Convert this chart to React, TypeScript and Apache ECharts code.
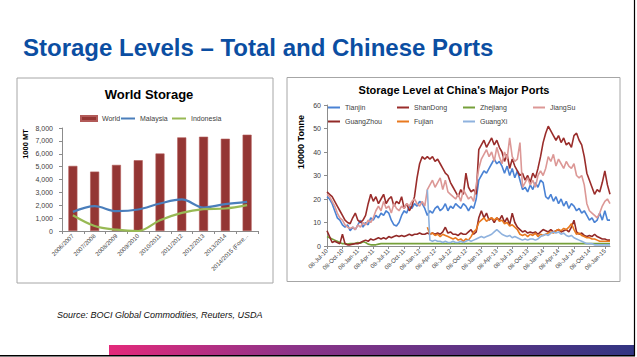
import React, { useEffect, useRef } from "react";
import * as echarts from "echarts";

// ---------- Left chart: World Storage (1000 MT) ----------
const seasons = [
  "2006/2007", "2007/2008", "2008/2009", "2009/2010", "2010/2011",
  "2011/2012", "2012/2013", "2013/2014", "2014/2015 (Fore...",
];
const worldStorage = [5055, 4612, 5133, 5498, 6020, 7270, 7322, 7166, 7479];
const malaysiaStorage = [1485, 1928, 1537, 1668, 2137, 2450, 1824, 2085, 2267];
const indonesiaStorage = [1225, 390, 100, 0, 834, 1407, 1694, 1746, 2006];

// ---------- Right chart: Storage at China's major ports (10000 tonne) ----------
// x position = months since 08-Jul-10, sampled every half month (0 .. 55)
const halfMonths = Array.from({ length: 111 }, (_, i) => i / 2);
const dateTicks = [
  "08-Jul-10", "08-Oct-10", "08-Jan-11", "08-Apr-11", "08-Jul-11", "08-Oct-11",
  "08-Jan-12", "08-Apr-12", "08-Jul-12", "08-Oct-12", "08-Jan-13", "08-Apr-13",
  "08-Jul-13", "08-Oct-13", "08-Jan-14", "08-Apr-14", "08-Jul-14", "08-Oct-14",
  "08-Jan-15",
];

const tianjin = [
  21, 20, 18, 15, 12, 11, 9, 8, 9, 6.5,
  8, 7, 9, 11, 8, 10, 9, 12, 11, 13,
  12, 14, 13, 15, 14, 11, 9, 8.5, 10, 13,
  15, 14, 17, 16, 18, 17, 19, 18, 16, 13,
  15, 14, 16, 17, 15, 16, 18, 15, 17, 16,
  18, 17, 16, 18, 17, 15, 17, 16, 20, 28,
  30, 32, 31, 33, 35, 37, 35, 36, 34, 31,
  34, 30, 33, 29, 32, 28, 24, 25, 23, 26,
  24, 27, 25, 28, 27, 21, 20, 22, 19, 21,
  18, 20, 17, 19, 16, 18, 17, 15, 16, 14,
  15, 13, 11, 12, 10, 11, 14, 11, 15, 11, 11,
];
const shanDong = [
  23, 22, 21, 19, 17, 15, 13, 11, 10, 9.5,
  12, 14, 11, 10, 11, 13, 18, 22, 19, 21,
  18, 20, 22, 18, 20, 21, 17, 19, 18, 21,
  16, 18, 15, 17, 21, 29, 35, 38, 37, 38,
  37, 38, 36, 37, 35, 33, 31, 30, 27, 25,
  23, 21, 24, 22, 31, 25, 23, 24, 22, 41,
  43, 45, 42, 44, 46, 43, 45, 42, 40, 36,
  39, 33, 37, 34, 32, 30, 31, 28, 30, 27,
  31, 29, 33, 38, 44, 48, 51, 49, 47, 45,
  47, 44, 46, 43, 44, 42, 47, 48, 45, 43,
  38, 31, 28, 25, 22, 24, 23, 27, 32, 26, 22,
];
const zhejiang = [
  4, 3.5, 3, 2.5, 2, 1.5, 1, 1, 0.8, 1,
  1, 1.2, 1.5, 1.2, 1.8, 1.5, 0.8, 0.5, 0.5, 0.5,
  0.8, 1, 1, 1, 1, 1, 1, 1, 1, 1,
  1, 1, 1, 1, 1, 1, 1, 1, 1, 1,
  1, 1, 1, 1, 1, 1, 1, 1, 1, 1,
  1, 1, 1, 1, 1, 1, 1, 1, 1, 1,
  1, 1, 1, 1, 1, 1, 1, 1, 1, 1,
  1, 1, 1, 1, 1, 1, 1, 1, 1, 1,
  1, 1, 1, 1, 1, 1, 1, 1, 1, 1,
  1, 1, 1, 1, 1, 1, 1, 1, 1, 1,
  1, 1, 1, 1, 1, 1, 1, 1, 1, 1, 1,
];
const jiangSu = [
  22, 21, 19, 17, 14, 12, 11, 9, 8, 7.5,
  8, 7, 9, 8, 10, 9, 11, 10, 12, 15,
  17, 15, 19, 16, 17, 14, 18, 16, 15, 17,
  16, 18, 17, 19, 20, 18, 17, 19, 17, 24,
  26, 28, 25, 27, 29, 24, 28, 23, 22, 21,
  20, 22, 19, 24, 22, 20, 21, 19, 26, 33,
  37, 39, 41, 38, 40, 36, 42, 38, 35, 40,
  37, 46, 38, 36, 37, 44, 25, 27, 29, 26,
  28, 25, 30, 32, 30, 33, 38, 36, 39, 34,
  37, 35, 33, 36, 34, 33, 35, 30, 29, 30,
  26, 18, 15, 14, 13, 12, 14, 17, 19, 20, 18,
];
const guangZhou = [
  6.5, 4, 1.5, 2, 1.5, 1, 5, 1, 0.5, 0.5,
  0.8, 1, 1, 1.5, 2, 2.5, 2, 3, 2.5, 3,
  3.5, 3, 3.5, 3, 4, 3.5, 4, 4.5, 4, 4.5,
  4, 4.5, 5, 4.5, 5, 5, 5.5, 5, 5, 5.5,
  5, 5.5, 5, 5.5, 5, 6, 8, 5.5, 6, 5,
  5, 4.5, 5.5, 5, 5, 6, 7, 5, 6, 12,
  15, 12, 14, 11, 12, 10, 12, 11, 13, 10,
  12, 9, 14, 10, 8, 7, 6, 6.5, 5.5, 6,
  5.5, 6, 5, 6, 7, 6.5, 6, 7, 6, 6.5,
  7, 6, 6.5, 7, 6, 8, 11, 6, 5, 5.5,
  4.5, 4, 4.5, 4, 5, 4, 3.5, 3, 3, 2.5, 2.5,
];
// Fujian and GuangXi start reporting at half-month index 39
const lateStart = 39;
const fujian = [
  8,
  5, 5.5, 4.5, 5, 4, 5, 4.5, 4, 3.5, 3,
  3.5, 2.5, 3, 2, 3, 2.5, 4, 6, 7, 10,
  11, 12, 10.5, 11.5, 12, 11, 12, 10.5, 11, 9.5,
  10, 8.5, 9, 8, 7, 5, 4.5, 5, 4, 5,
  4.5, 5.5, 4, 5, 4.5, 5, 5.5, 6, 5.5, 6.5,
  7, 6.5, 7.5, 7, 8, 9.5, 7, 5, 5.5, 4.5,
  4, 3.5, 3.5, 3, 3, 2.5, 2, 2, 2, 2, 2,
];
const guangXi = [
  24,
  2.5, 2, 2.5, 2, 2, 1.5, 2, 1.5, 1.5, 2,
  1.5, 1.5, 2, 1.5, 2, 2.5, 2, 2.5, 3, 3.5,
  4, 3.5, 4, 4.5, 5, 6, 7, 6, 5, 4.5,
  4, 4.5, 3.5, 4, 3.5, 3, 2.5, 3, 2.5, 3,
  3, 2.5, 3, 4, 4.5, 5, 4.5, 5.5, 6, 5.5,
  6, 5, 5.5, 4.5, 4, 4.5, 3.5, 3, 2.5, 2,
  1.5, 1, 1, 1, 0.5, 0.5, 0.5, 0.5, 0.5, 0.5, 0.5,
];

const FONT = "Liberation Sans, Arial, sans-serif";
const TICK_COLOR = "#404040";
const AXIS_COLOR = "#8c8c8c";

function pairs(values: number[], start = 0) {
  return values.map((v, i) => [halfMonths[start + i], v]);
}

// one legend component per entry, so every entry sits where the reference puts it
function legendItem(name: string, left: number, top: number, itemWidth: number, itemHeight: number, fontSize = 7) {
  return {
    show: true,
    left,
    top,
    padding: 0,
    itemGap: 0,
    itemWidth,
    itemHeight,
    selectedMode: false,
    data: [{ name, icon: "rect" }],
    textStyle: { fontSize, color: TICK_COLOR, fontFamily: FONT },
  };
}

function portLine(name: string, color: string, values: number[], start = 0) {
  return {
    name,
    type: "line",
    xAxisIndex: 1,
    yAxisIndex: 1,
    data: pairs(values, start),
    symbol: "none",
    showSymbol: false,
    lineStyle: { color, width: 1.6 },
    itemStyle: { color },
  };
}

export default function App() {
  const ref = useRef<HTMLDivElement>(null);

  useEffect(() => {
    if (!ref.current) return;
    const chart = echarts.init(ref.current, null, { renderer: "svg" });

    const option = {
      animation: false,
      backgroundColor: "#ffffff",
      textStyle: { fontFamily: FONT },
      grid: [
        { left: 62, top: 128, width: 196, height: 103, containLabel: false },
        { left: 327, top: 105, width: 283, height: 141, containLabel: false },
      ],
      xAxis: [
        {
          type: "category",
          gridIndex: 0,
          data: seasons,
          axisLine: { lineStyle: { color: AXIS_COLOR } },
          axisTick: { show: true, length: 3, lineStyle: { color: AXIS_COLOR } },
          axisLabel: { rotate: 45, interval: 0, fontSize: 6, color: TICK_COLOR, margin: 4, fontFamily: FONT },
          splitLine: { show: false },
        },
        {
          type: "value",
          gridIndex: 1,
          min: 0,
          max: 55,
          interval: 3,
          axisLine: { onZero: false, lineStyle: { color: AXIS_COLOR } },
          axisTick: { show: true, length: 3, lineStyle: { color: AXIS_COLOR } },
          axisLabel: {
            rotate: 45,
            fontSize: 6,
            color: TICK_COLOR,
            margin: 4,
            fontFamily: FONT,
            showMaxLabel: false,
            formatter: (v: number) => dateTicks[Math.round(v / 3)] ?? "",
          },
          splitLine: { show: false },
        },
      ],
      yAxis: [
        {
          type: "value",
          gridIndex: 0,
          min: 0,
          max: 8000,
          interval: 1000,
          axisLine: { show: true, lineStyle: { color: AXIS_COLOR } },
          axisTick: { show: true, length: 3, lineStyle: { color: AXIS_COLOR } },
          axisLabel: {
            fontSize: 7,
            color: TICK_COLOR,
            margin: 9,
            fontFamily: FONT,
            formatter: (v: number) => v.toLocaleString("en-US"),
          },
          splitLine: { show: false },
        },
        {
          type: "value",
          gridIndex: 1,
          min: 0,
          max: 60,
          interval: 10,
          axisLine: { show: true, lineStyle: { color: AXIS_COLOR } },
          axisTick: { show: true, length: 3, lineStyle: { color: AXIS_COLOR } },
          axisLabel: { fontSize: 7, color: TICK_COLOR, margin: 6, fontFamily: FONT },
          splitLine: { show: false },
        },
      ],
      legend: [
        legendItem("World", 80, 115, 16, 5),
        legendItem("Malaysia", 121, 115, 14, 2),
        legendItem("Indonesia", 172, 115, 14, 2),
        legendItem("Tianjin", 328, 104, 12, 2),
        legendItem("ShanDong", 397, 104, 12, 2),
        legendItem("Zhejiang", 463, 104, 12, 2),
        legendItem("JiangSu", 533, 104, 12, 2),
        legendItem("GuangZhou", 328, 118, 12, 2),
        legendItem("Fujian", 397, 118, 12, 2),
        legendItem("GuangXi", 463, 118, 12, 2),
      ],
      series: [
        {
          name: "World",
          type: "bar",
          xAxisIndex: 0,
          yAxisIndex: 0,
          data: worldStorage,
          barWidth: 9,
          itemStyle: { color: "#943634", borderColor: "#b25a58", borderWidth: 0.6 },
        },
        {
          name: "Malaysia",
          type: "line",
          xAxisIndex: 0,
          yAxisIndex: 0,
          data: malaysiaStorage,
          smooth: 0.35,
          symbol: "none",
          showSymbol: false,
          lineStyle: { color: "#4a7ebb", width: 2.2 },
          itemStyle: { color: "#4a7ebb" },
        },
        {
          name: "Indonesia",
          type: "line",
          xAxisIndex: 0,
          yAxisIndex: 0,
          data: indonesiaStorage,
          smooth: 0.35,
          symbol: "none",
          showSymbol: false,
          lineStyle: { color: "#98b954", width: 2.2 },
          itemStyle: { color: "#98b954" },
        },
        portLine("Tianjin", "#4a82d4", tianjin),
        portLine("ShanDong", "#9a2d2b", shanDong),
        portLine("Zhejiang", "#76a03a", zhejiang),
        portLine("JiangSu", "#dc9896", jiangSu),
        portLine("GuangZhou", "#922a28", guangZhou),
        portLine("Fujian", "#e8791f", fujian, lateStart),
        portLine("GuangXi", "#8fb2de", guangXi, lateStart),
      ],
      graphic: [
        {
          type: "text",
          x: 23,
          y: 47,
          style: {
            text: "Storage Levels – Total and Chinese Ports",
            fill: "#0b4ea2",
            fontSize: 24,
            fontWeight: "bold",
            fontFamily: FONT,
            align: "left",
            verticalAlign: "middle",
          },
        },
        {
          type: "rect",
          shape: { x: 17, y: 78, width: 256, height: 205 },
          style: { fill: "none", stroke: "#a6a6a6", lineWidth: 1 },
        },
        {
          type: "rect",
          shape: { x: 287, y: 77.5, width: 333, height: 204 },
          style: { fill: "none", stroke: "#a6a6a6", lineWidth: 1 },
        },
        {
          type: "text",
          x: 149,
          y: 94,
          style: {
            text: "World Storage",
            fill: "#000",
            fontSize: 13,
            fontWeight: "bold",
            fontFamily: FONT,
            align: "center",
            verticalAlign: "middle",
          },
        },
        {
          type: "text",
          x: 454,
          y: 90,
          style: {
            text: "Storage Level at China's Major Ports",
            fill: "#000",
            fontSize: 11,
            fontWeight: "bold",
            fontFamily: FONT,
            align: "center",
            verticalAlign: "middle",
          },
        },
        {
          type: "text",
          x: 25.5,
          y: 144,
          rotation: Math.PI / 2,
          style: {
            text: "1000 MT",
            fill: "#000",
            fontSize: 7.5,
            fontWeight: "bold",
            fontFamily: FONT,
            align: "center",
            verticalAlign: "middle",
          },
        },
        {
          type: "text",
          x: 301,
          y: 142,
          rotation: Math.PI / 2,
          style: {
            text: "10000 Tonne",
            fill: "#000",
            fontSize: 9,
            fontWeight: "bold",
            fontFamily: FONT,
            align: "center",
            verticalAlign: "middle",
          },
        },
        {
          type: "text",
          x: 57,
          y: 315,
          style: {
            text: "Source: BOCI Global Commodities, Reuters, USDA",
            fill: "#111",
            fontSize: 9,
            fontStyle: "italic",
            fontFamily: FONT,
            align: "left",
            verticalAlign: "middle",
          },
        },
        {
          type: "rect",
          shape: { x: 109, y: 345, width: 525, height: 10 },
          style: {
            fill: new echarts.graphic.LinearGradient(0, 0, 1, 0, [
              { offset: 0, color: "#e3297a" },
              { offset: 0.35, color: "#8c3388" },
              { offset: 1, color: "#323582" },
            ]),
          },
        },
        {
          type: "line",
          shape: { x1: 634.5, y1: 0, x2: 634.5, y2: 356 },
          style: { stroke: "#000", lineWidth: 1.2 },
        },
        {
          type: "line",
          shape: { x1: 0, y1: 355.8, x2: 635, y2: 355.8 },
          style: { stroke: "#000", lineWidth: 1.5 },
        },
      ],
    };

    chart.setOption(option as any);
    return () => chart.dispose();
  }, []);

  return (
    <div
      ref={ref}
      style={{ position: "absolute", left: 0, top: 0, width: 637, height: 357, background: "#fff" }}
    />
  );
}
